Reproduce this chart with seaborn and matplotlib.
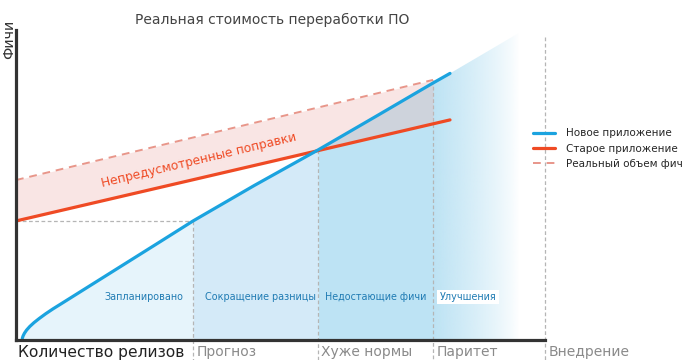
import numpy as np
import matplotlib
matplotlib.use("Agg")
import matplotlib.pyplot as plt
from matplotlib.patches import Polygon
import seaborn as sns

# Data (x: releases 0-100, y: features 0-100)
new_app_x = [1.19, 1.35, 1.6, 2.0, 2.6, 3.4, 4.4, 5.6, 7.0, 8.6, 14.0, 20.0, 27.0, 33.46, 45.0, 57.09, 68.0, 78.83, 82.04]
new_app_y = [0.55, 1.35, 2.2, 3.2, 4.35, 5.6, 6.95, 8.45, 10.05, 11.75, 17.53, 23.95, 31.44, 38.39, 49.8, 61.3, 72.1, 82.9, 86.0]
old_app_x = [0.0, 82.04]
old_app_y = [38.4, 71.0]
real_x = [0.0, 78.83]
real_y = [51.6, 83.9]

phase_x = [33.46, 57.09, 78.83, 100.0]
phase_top = [38.39, 61.29, 83.9, 97.7]
phase_labels = ["Количество релизов", "Прогноз", "Хуже нормы", "Паритет", "Внедрение"]
region_labels = ["Запланировано", "Сокращение разницы", "Недостающие фичи", "Улучшения"]
region_x = [24.1, 46.2, 68.05, 85.4]
legend_labels = ["Новое приложение", "Старое приложение", "Реальный объем фич"]

BLUE = "#1ba3df"
RED = "#ef4a24"
PINK = "#e8968a"

sns.set_theme(style="white")
plt.rcParams["font.family"] = ["DejaVu Sans"]

fig = plt.figure(figsize=(6.89, 3.60), dpi=100)
ax = fig.add_axes([16 / 689, 20 / 360, 529 / 689, 310 / 360])

nx = np.array(new_app_x)
ny = np.array(new_app_y)

# blue fills under the new-app curve, one shade per phase
shades = ["#e6f4fb", "#d4eaf8", "#bde3f4"]
bounds = [0.0] + phase_x[:3]
for i, col in enumerate(shades):
    lo, hi = bounds[i], bounds[i + 1]
    m = (nx >= lo - 1e-9) & (nx <= hi + 1e-9)
    ax.fill_between(nx[m], 0, ny[m], color=col, lw=0, zorder=1)
ax.fill_between([0, nx[0]], 0, [0, ny[0]], color=shades[0], lw=0, zorder=1)

# fading extension past parity
grad = np.ones((1, 256, 4))
grad[..., :3] = matplotlib.colors.to_rgb("#bde3f4")
grad[..., 3] = np.linspace(1, 0, 256) ** 0.8
im = ax.imshow(grad, extent=[phase_x[2], 95, 0, 110], aspect="auto", zorder=1)
wedge = Polygon([(phase_x[2], 0), (phase_x[2], 82.9), (82.04, 86.0), (100, 104), (100, 0)],
                transform=ax.transData, visible=False)
ax.add_patch(wedge)
im.set_clip_path(wedge)

# unplanned changes band between old app and real volume
rx = np.linspace(0, real_x[1], 50)
band_lo = np.interp(rx, old_app_x, old_app_y)
band_hi = np.interp(rx, real_x, real_y)
ax.fill_between(rx, band_lo, band_hi, color=(240 / 255, 181 / 255, 176 / 255), alpha=0.34, lw=0, zorder=2)

# guide lines
for x, top in zip(phase_x, phase_top):
    ax.plot([x, x], [top, -6.5], color="#b5b5b5", lw=0.9, ls=(0, (3, 2)), clip_on=False, zorder=1.5)
ax.plot([0, phase_x[0]], [old_app_y[0], old_app_y[0]], color="#b5b5b5", lw=0.9, ls=(0, (3, 2)), zorder=1.5)

sns.lineplot(x=real_x, y=real_y, ax=ax, color=PINK, lw=1.4, dashes=False, ls=(0, (4, 3)),
             label=legend_labels[2], sort=False, estimator=None, zorder=3)
sns.lineplot(x=old_app_x, y=old_app_y, ax=ax, color=RED, lw=2.3, label=legend_labels[1],
             sort=False, estimator=None, zorder=4)
sns.lineplot(x=new_app_x, y=new_app_y, ax=ax, color=BLUE, lw=2.3, label=legend_labels[0],
             sort=False, estimator=None, zorder=5)

ax.set_xlim(0, 100)
ax.set_ylim(0, 100)
ax.set_xticks([])
ax.set_yticks([])
ax.set_xlabel("")
ax.set_ylabel("")
for s in ["top", "right"]:
    ax.spines[s].set_visible(False)
for s in ["left", "bottom"]:
    ax.spines[s].set_color("#333333")
    ax.spines[s].set_linewidth(2.3)
    ax.spines[s].set_zorder(6)

# region labels
for i, (lab, x) in enumerate(zip(region_labels, region_x)):
    kw = {}
    if i == 3:
        kw["bbox"] = dict(boxstyle="square,pad=0.25", fc="white", ec="none")
    ax.text(x, 13.9, lab, ha="center", va="center", fontsize=6.9, color="#1f7bb3", zorder=7, **kw)

ax.text(34.6, 58.1, "Непредусмотренные поправки", rotation=13.5, rotation_mode="anchor",
        ha="center", va="center", fontsize=8.8, color=RED, zorder=7)

# bottom phase labels
label_x = [0.4] + [x + 0.6 for x in phase_x]
for i, (lab, x) in enumerate(zip(phase_labels, label_x)):
    ax.text(x, -3.9, lab, ha="left", va="center", fontsize=11.2 if i == 0 else 10.0,
            color="#222222" if i == 0 else "#8a8a8a", clip_on=False)

fig.text(9.5 / 689, 1 - 39 / 360, "Фичи", rotation=90, ha="center", va="center", fontsize=10.3, color="#333333")
fig.text(272 / 689, 1 - 20 / 360, "Реальная стоимость переработки ПО", ha="center", va="center",
         fontsize=10.0, color="#444444")

handles, labels = ax.get_legend_handles_labels()
order = [2, 1, 0]
ax.legend([handles[i] for i in order], [labels[i] for i in order], loc="center left",
          bbox_to_anchor=(533 / 689, 1 - 148.5 / 360), bbox_transform=fig.transFigure,
          frameon=False, fontsize=7.5, handlelength=2.1, handletextpad=1.05,
          labelspacing=0.5, borderaxespad=0, borderpad=0)

fig.savefig("out.png", dpi=100)
